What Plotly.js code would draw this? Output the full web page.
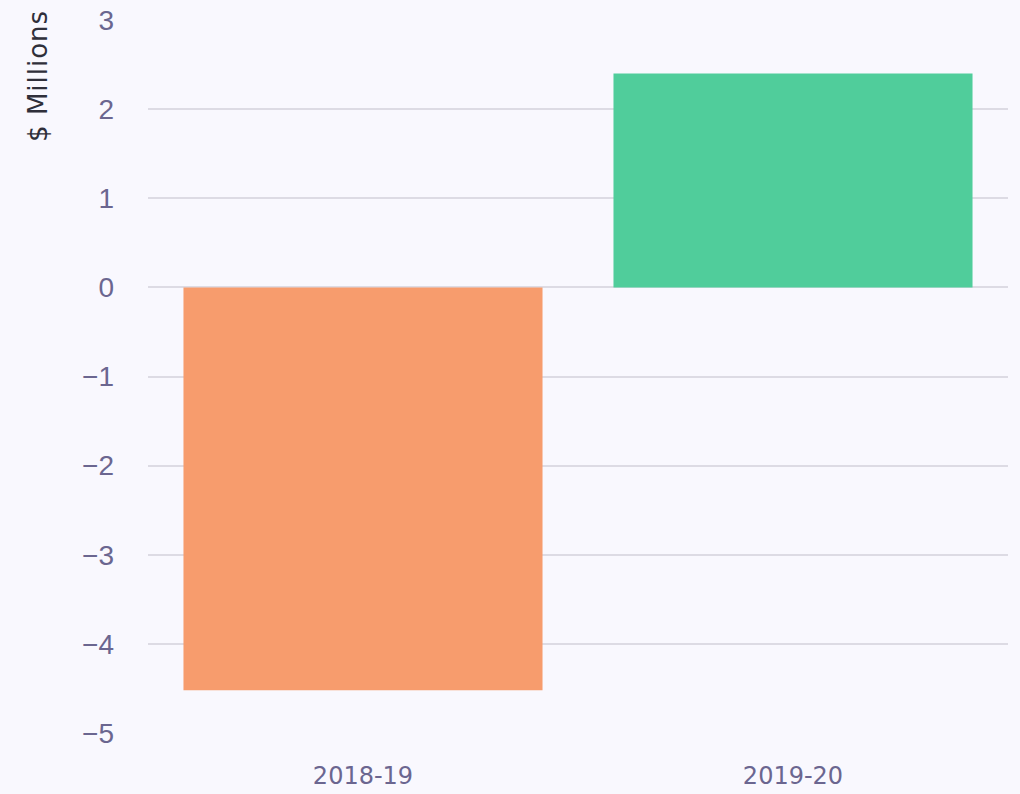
<!DOCTYPE html>
<html>
<head>
<meta charset="utf-8">
<script src="https://cdn.plot.ly/plotly-3.0.1.min.js"></script>
<style>
html,body{margin:0;padding:0;background:#f9f8fe;}
.annotation-text{letter-spacing:1px;}
</style>
</head>
<body>
<div id="chart" style="width:1020px;height:794px;"></div>
<script>
const categories = ["2018-19", "2019-20"];
const values = [-4.52, 2.40];
const barColors = ["#f79c6d", "#50cd9b"];
const yTicks = [-5, -4, -3, -2, -1, 0, 1, 2, 3];
const yTitle = "$ Millions";

const trace = {
  type: 'bar',
  x: categories,
  y: values,
  marker: {color: barColors, line: {width: 0}},
  hoverinfo: 'none'
};

const layout = {
  width: 1020,
  height: 794,
  paper_bgcolor: '#f9f8fe',
  plot_bgcolor: '#f9f8fe',
  margin: {l: 148, r: 12, t: 20, b: 61},
  bargap: 0.165,
  showlegend: false,
  font: {family: '"DejaVu Sans", sans-serif', size: 20, color: '#6b6690'},
  xaxis: {
    type: 'category',
    showgrid: false,
    zeroline: false,
    showline: false,
    ticks: '',
    tickfont: {family: '"DejaVu Sans", sans-serif', size: 24, color: '#6b6690'},
    ticklabelstandoff: 26
  },
  yaxis: {
    range: [-5, 3],
    tickvals: yTicks,
    showgrid: true,
    gridcolor: '#dddbe4',
    gridwidth: 2,
    zeroline: false,
    showline: false,
    ticks: '',
    tickfont: {family: '"Liberation Sans", Arial, sans-serif', size: 28, color: '#6b6690'},
    ticklabelstandoff: 33
  },
  annotations: [{
    text: yTitle,
    textangle: -90,
    xref: 'paper', yref: 'paper',
    x: -0.128, y: 1,
    xanchor: 'center', yanchor: 'top',
    yshift: 12,
    showarrow: false,
    font: {size: 26, color: '#2f2f3a', family: '"DejaVu Sans", sans-serif'}
  }]
};

Plotly.newPlot('chart', [trace], layout, {displayModeBar: false, staticPlot: true});
</script>
</body>
</html>
